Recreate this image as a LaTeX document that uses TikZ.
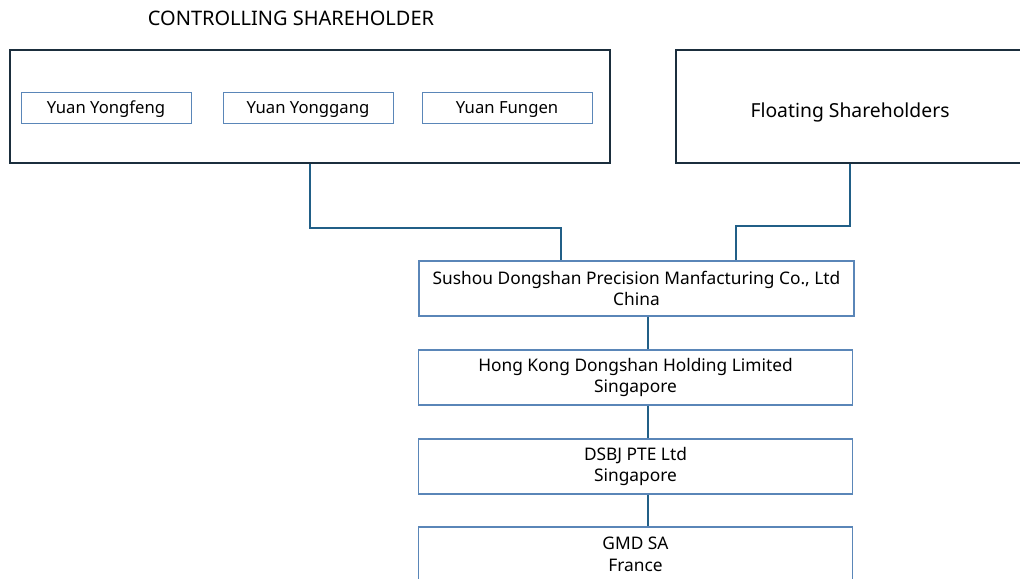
\documentclass[tikz,border=0pt]{standalone}
\usepackage{fontspec}
\setmainfont{Noto Sans}
\definecolor{boxdark}{HTML}{1B2E3D}
\definecolor{boxblue}{HTML}{5A86B8}
\definecolor{linkblue}{HTML}{215F87}
\tikzset{
  holder/.style={draw=boxdark, line width=1.5pt, minimum height=84.75pt, inner sep=0pt},
  person/.style={draw=boxblue, line width=0.75pt, minimum width=127.5pt, minimum height=23.25pt, inner sep=0pt, text height=11pt, text depth=2pt, font=\fontsize{12.5}{15}\selectfont},
  company/.style={draw=boxblue, line width=0.9pt, minimum width=325pt, minimum height=41.25pt, inner sep=0pt, align=center, font=\fontsize{13}{16.3}\selectfont},
  link/.style={draw=linkblue, line width=1.4pt}
}
\begin{document}
\begin{tikzpicture}[x=0.75pt, y=-0.75pt]
\clip (0,0) rectangle (1020,578);
\useasboundingbox (0,0) rectangle (1020,578);
\node[font=\fontsize{15}{18}\selectfont] (title) at (291,18.5) {CONTROLLING SHAREHOLDER};
\node[holder, minimum width=450pt] (ctrl) at (310,106.5) {};
\node[person] (yf) at (106,107.5) {Yuan Yongfeng};
\node[person] (yg) at (308,107.5) {Yuan Yonggang};
\node[person] (fg) at (507,107.5) {Yuan Fungen};
\node[holder, minimum width=261pt, text height=18pt, text depth=1.2pt, font=\fontsize{14.5}{17}\selectfont] (float) at (850,106.5) {Floating Shareholders};
\node[company, minimum width=326.25pt] (sus) at (636.5,288.5) {Sushou Dongshan Precision Manfacturing Co., Ltd\\China};
\node[company] (hk) at (635.5,377.5) {Hong Kong Dongshan Holding Limited\\Singapore};
\node[company] (dsbj) at (635.5,466.5) {DSBJ PTE Ltd\\Singapore};
\node[company] (gmd) at (635.5,554.5) {GMD SA\\France};
\coordinate (jl) at (561,228);
\coordinate (jr) at (736,226);
\coordinate (spine) at (648,0);
\draw[link] (ctrl.south) |- (jl) -- (jl |- sus.north);
\draw[link] (float.south) |- (jr) -- (jr |- sus.north);
\draw[link] (sus.south -| spine) -- (hk.north -| spine);
\draw[link] (hk.south -| spine) -- (dsbj.north -| spine);
\draw[link] (dsbj.south -| spine) -- (gmd.north -| spine);
\end{tikzpicture}
\end{document}
